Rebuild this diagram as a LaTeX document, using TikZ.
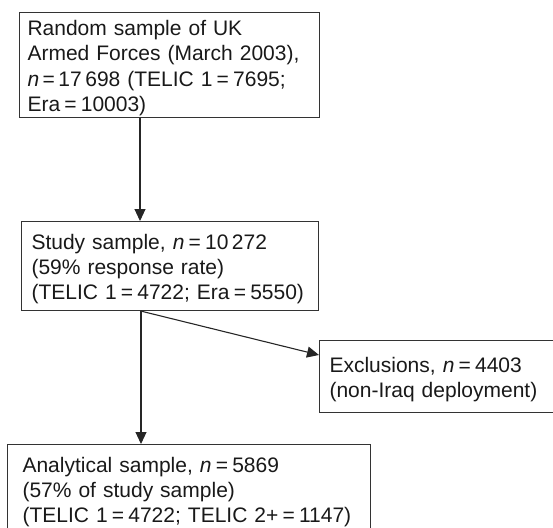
\documentclass[tikz,border=0pt]{standalone}
\usepackage{fontspec}
\setmainfont{Liberation Sans}
\usetikzlibrary{positioning,calc,arrows.meta}
\newcommand{\eq}{\hspace{0.2em}=\hspace{0.2em}}

\begin{document}
\begin{tikzpicture}[x=1pt, y=-1pt, font=\fontsize{21}{25.3}\selectfont]
\tikzset{
  box/.style={draw=black!80, line width=1.1pt, align=left, anchor=north west, inner sep=0pt, text=black!90,
    execute at begin node=\rule{0pt}{21pt}},
  arr/.style={draw=black!85, line width=1.1pt, -{Triangle[length=12pt, width=11pt]}}
}
\useasboundingbox (0,0) rectangle (553,527);
\node[box, minimum width=300pt, minimum height=105pt, text width=284pt] (rand) at (19,12)
  {Random sample of UK\\Armed Forces (March 2003),\\\textit{n}\,=\,17\,698 (TELIC~1\eq7695;\\Era\eq10003)};
\node[box, minimum width=297pt, minimum height=89pt, text width=277pt] (study) at (21,221)
  {Study sample, \textit{n}\eq10\,272\\(59\% response rate)\\(TELIC~1\eq4722;~Era\eq5550)};
\node[box, minimum width=250pt, minimum height=72pt, text width=230pt] (excl) at (319,340)
  {Exclusions, \textit{n}\eq4403\\(non-Iraq~deployment)};
\node[box, minimum width=363pt, minimum height=89pt, text width=333pt] (anal) at (7,444)
  {Analytical sample, \textit{n}\eq5869\\(57\% of study sample)\\(TELIC~1\eq4722;~TELIC~2+\eq1147)};
\draw[arr] ([xshift=121pt]rand.south west) -- ([xshift=119pt]study.north west);
\draw[arr] ([xshift=120pt]study.south west) -- ([xshift=134pt]anal.north west);
\draw[arr] ([xshift=120pt]study.south west) -- ([yshift=-15pt]excl.north west);
\end{tikzpicture}
\end{document}
